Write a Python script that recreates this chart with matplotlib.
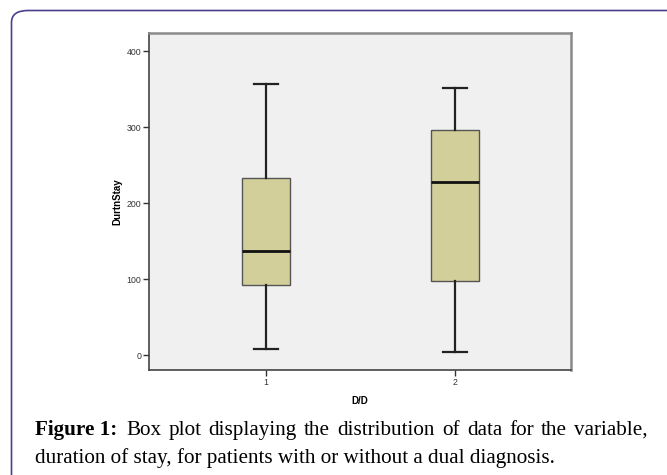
import matplotlib.pyplot as plt
from matplotlib.patches import FancyBboxPatch

# box plot summary values
groups = ["1", "2"]
whislo = [8, 4]
q1 = [92, 98]
med = [137, 227]
q3 = [233, 296]
whishi = [356, 351]
yticks = [0, 100, 200, 300, 400]

fig = plt.figure(figsize=(6.67, 4.75), dpi=100)

# rounded outer frame
W, H = 667, 475
frame = FancyBboxPatch((11.5 / W, -0.2), 1.2, (H - 10.5) / H + 0.2,
                       boxstyle="round,pad=0,rounding_size=0.025",
                       transform=fig.transFigure, fill=False,
                       edgecolor="#4a3f8c", linewidth=1.2)
fig.patches.append(frame)

ax = fig.add_axes([149 / W, 1 - 370 / H, (571 - 149) / W, (370 - 33) / H])
ax.set_facecolor("#f0f0f0")

stats = []
for i in range(len(groups)):
    stats.append({"label": groups[i], "whislo": whislo[i], "q1": q1[i],
                  "med": med[i], "q3": q3[i], "whishi": whishi[i], "fliers": []})

ax.bxp(stats, positions=[1, 2], widths=0.253, capwidths=0.127,
       patch_artist=True, showfliers=False,
       boxprops=dict(facecolor="#d3cf9a", edgecolor="#555555", linewidth=1.0),
       medianprops=dict(color="#111111", linewidth=2.0),
       whiskerprops=dict(color="#222222", linewidth=1.6),
       capprops=dict(color="#222222", linewidth=1.6))

ax.set_xlim(0.385, 2.612)
ax.set_ylim(-19.7, 423.7)
ax.set_yticks(yticks)
ax.set_xticks([1, 2])
ax.set_xticklabels(groups)
ax.tick_params(labelsize=6.3, length=4, width=1, color="#333333",
               labelcolor="#333333", pad=1.5)

for s in ["left", "bottom"]:
    ax.spines[s].set_color("#444444")
    ax.spines[s].set_linewidth(1.2)
for s in ["top", "right"]:
    ax.spines[s].set_color("#8a8a8a")
    ax.spines[s].set_linewidth(1.8)

ax.set_ylabel("DurtnStay", fontsize=7, fontweight="bold", family="Liberation Sans", labelpad=3)
ax.set_xlabel("D/D", fontsize=7, fontweight="bold", family="Liberation Sans", labelpad=7)
for lab in ax.get_xticklabels() + ax.get_yticklabels():
    lab.set_family("Liberation Sans")

# caption, first line justified word by word
fs = 15.2
fig.text(35 / W, 1 - 435 / H, "Figure 1:", fontsize=fs, fontweight="bold",
         family="Liberation Serif", va="baseline", ha="left")
words = "Box plot displaying the distribution of data for the variable,".split()
fig.canvas.draw()
r = fig.canvas.get_renderer()
widths = []
for w in words:
    t = fig.text(0, 0, w, fontsize=fs, family="Liberation Serif")
    widths.append(t.get_window_extent(r).width)
    t.remove()
x0, x1 = 126, 648
gap = (x1 - x0 - sum(widths)) / (len(words) - 1)
x = x0
for w, wd in zip(words, widths):
    fig.text(x / W, 1 - 435 / H, w, fontsize=fs, family="Liberation Serif",
             va="baseline", ha="left")
    x += wd + gap
fig.text(35 / W, 1 - 463 / H,
         "duration of stay, for patients with or without a dual diagnosis.",
         fontsize=fs, family="Liberation Serif", va="baseline", ha="left")

fig.savefig("out.png", dpi=100)
